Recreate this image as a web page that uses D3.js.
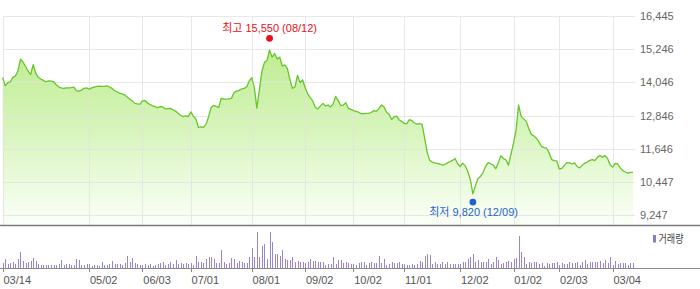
<!DOCTYPE html>
<html><head><meta charset="utf-8">
<script src="https://cdn.jsdelivr.net/npm/d3@7"></script>
<style>
body{margin:0;background:#fff}
svg{display:block}
text{font-family:"Liberation Sans",Arial,"Noto Sans CJK KR",sans-serif}
</style>
</head><body>
<svg id="c" width="700" height="289"></svg>
<script>
// ---- data ----
const closePrices = [
14230,13920,14040,14070,14230,14280,14460,14890,14780,14620,
14460,14330,14690,14380,14230,14170,14120,14070,14100,14090,
14070,13970,13890,13850,13830,13850,13850,13860,13880,13750,
13730,13770,13830,13850,13800,13850,13880,13900,13910,13900,
13900,13920,13880,13830,13750,13710,13660,13630,13590,13520,
13440,13380,13290,13270,13260,13380,13390,13300,13250,13200,
13170,13140,13170,13160,13090,13100,13110,13060,13010,12930,
12860,12810,12840,12810,12980,12830,12730,12420,12440,12420,
12530,12800,13140,13220,13180,13140,13480,13440,13440,13450,
13470,13680,13730,13760,13810,13830,13890,14100,14220,13870,
13120,13790,14460,14770,14840,15220,14960,15090,14890,14960,
14640,14680,14550,14150,13830,13890,14300,14040,14140,13860,
13630,13500,13380,13140,13090,13200,13290,13200,13230,13160,
13270,13540,13390,13210,13230,13310,13110,13070,13030,13000,
12970,12920,12920,12930,12930,12960,13030,13000,13100,13230,
13170,12980,12900,12710,12800,12830,12690,12640,12560,12560,
12700,12670,12580,12540,12560,12530,12040,11530,11230,11170,
11140,11120,11100,11060,11080,11140,11180,11230,11300,11110,
11010,11130,11030,10830,10540,10020,10310,10580,10650,10790,
11010,11150,11110,11060,10930,11140,11400,11300,11250,11060,
11460,11860,12330,13230,12820,12730,12640,12380,12170,12110,
12030,11900,11730,11690,11670,11500,11260,11220,11210,10920,
10940,11050,11150,11140,11100,11140,11010,10960,11050,11130,
11170,11230,11260,11220,11350,11400,11350,11400,11300,11060,
10990,11120,11100,10960,10860,10810,10770,10800,10800
];
const volumes = [
50,90,40,50,60,40,90,160,70,50,60,70,100,70,40,30,30,30,30,30,
30,
30,40,80,30,40,40,30,30,90,80,30,30,40,40,20,30,30,20,60,30,
30,40,70,40,40,40,30,50,120,60,100,50,40,30,30,40,30,40,20,30,
40,
50,60,30,40,60,40,80,40,50,40,50,40,50,30,120,60,60,50,90,110,
110,90,50,50,180,60,40,50,100,90,
50,
70,60,50,50,110,200,110,360,110,220,
240,90,360,260,140,140,120,180,90,80,
80,110,60,70,60,60,50,60,90,70,
70,60,60,60,30,40,40,110,40,80,80,50,60,
50,
40,40,30,50,60,60,30,50,60,50,
50,120,50,90,30,40,60,50,50,60,
40,40,30,30,40,30,40,70,60,120,
140,130,40,60,40,40,60,40,60,40,
40,40,40,40,60,60,90,110,140,60,
80,60,60,60,90,40,60,110,80,40,
50,60,70,60,90,100,320,160,110,40,
60,50,60,60,40,50,20,50,40,50,
50,60,30,50,40,40,60,50,50,60,
30,60,80,40,60,60,60,60,70,50,
80,50,110,30,70,40,50,50,50,30,
50,50
];
const xTickLabels = ["03/14","05/02","06/03","07/01","08/01","09/02","10/02","11/01","12/02","01/02","02/03","03/04"];
const xTickIndex  = [0,34,55,74,98,119,138,158,180,201,219,240];
const yTickValues = [9247,10447,11646,12846,14046,15246,16445];
const highPoint = {index:105, value:15550, date:"08/12"};
const lowPoint  = {index:185, value:9820,  date:"12/09"};
const legendLabel = "거래량";

// ---- chart ----
const svg = d3.select("#c");
const fmt = d3.format(",");
const x  = d3.scaleLinear().domain([0, closePrices.length-1]).range([2.7, 633]);
const y  = d3.scaleLinear().domain([9247,16445]).range([215.3,16]);
const yv = d3.scaleLinear().domain([0,380]).range([268.3,230]);
const plotRight = 635, priceBottom = 225;

const defs = svg.append("defs");
const g = defs.append("linearGradient").attr("id","fillG")
  .attr("gradientUnits","userSpaceOnUse").attr("x1",0).attr("x2",0).attr("y1",40).attr("y2",priceBottom);
g.append("stop").attr("offset",0).attr("stop-color","#bdeb8d");
g.append("stop").attr("offset",0.5).attr("stop-color","#d8f5bd");
g.append("stop").attr("offset",1).attr("stop-color","#fbfff8");

// area
svg.append("path").datum(closePrices)
  .attr("d", d3.area().x((d,i)=>x(i)).y0(priceBottom).y1(d=>y(d)))
  .attr("fill","url(#fillG)");

// grid
const grid = svg.append("g").attr("stroke","#e2e2e2").attr("stroke-opacity",0.8).attr("shape-rendering","crispEdges");
grid.selectAll("line.h").data(yTickValues).join("line")
  .attr("x1", x(0)).attr("x2", plotRight)
  .attr("y1", d=>Math.round(y(d))+0.5).attr("y2", d=>Math.round(y(d))+0.5);
grid.selectAll("line.v").data(xTickIndex).join("line")
  .attr("x1", d=>Math.round(x(d))+0.5).attr("x2", d=>Math.round(x(d))+0.5)
  .attr("y1", Math.round(y(16445))).attr("y2", priceBottom);

// line
svg.append("path").datum(closePrices)
  .attr("d", d3.line().x((d,i)=>x(i)).y(d=>y(d)))
  .attr("fill","none").attr("stroke","#66c62a").attr("stroke-width",1.3).attr("stroke-linejoin","round");

// right axis labels
svg.append("g").selectAll("text").data(yTickValues).join("text")
  .attr("x", 640).attr("y", d=>y(d)).attr("dy","0.36em")
  .attr("font-size",11).attr("fill","#666").text(d=>fmt(d));

// separator
svg.append("line").attr("x1",0).attr("x2",700).attr("y1",225.5).attr("y2",225.5)
  .attr("stroke","#7a7a7a").attr("stroke-width",1.6);

// volume bars
svg.append("g").attr("fill","#9a84cc").attr("shape-rendering","crispEdges")
  .selectAll("rect").data(volumes).join("rect")
  .attr("x",(d,i)=>Math.round(x(i))).attr("width",1)
  .attr("y",d=>Math.round(yv(d))).attr("height",d=>268-Math.round(yv(d)));

// volume baseline + ticks
svg.append("line").attr("x1",0).attr("x2",700).attr("y1",268.5).attr("y2",268.5)
  .attr("stroke","#8a8a8a").attr("stroke-width",1.2);
svg.append("g").attr("stroke","#8a8a8a").attr("shape-rendering","crispEdges")
  .selectAll("line").data(xTickIndex).join("line")
  .attr("x1",d=>Math.round(x(d))+0.5).attr("x2",d=>Math.round(x(d))+0.5)
  .attr("y1",268).attr("y2",272);
svg.append("g").selectAll("text").data(xTickLabels).join("text")
  .attr("x",(d,i)=>x(xTickIndex[i])+0.8).attr("y",283.5)
  .attr("font-size",11).attr("fill","#555").text(d=>d);

// legend
svg.append("rect").attr("x",653).attr("y",235).attr("width",3).attr("height",7.5).attr("fill","#8f78c6");
svg.append("text").attr("x",658.5).attr("y",242.5).attr("font-size",11).attr("fill","#444")
  .attr("textLength",25).attr("lengthAdjust","spacingAndGlyphs").text(legendLabel);

// high / low annotations
svg.append("circle").attr("cx",x(highPoint.index)).attr("cy",y(highPoint.value)-2.5).attr("r",3.4).attr("fill","#e8101c");
svg.append("text").attr("x",x(highPoint.index)).attr("y",31.5).attr("text-anchor","middle")
  .attr("font-size",11).attr("fill","#e8101c").text(`최고 ${fmt(highPoint.value)} (${highPoint.date})`);
svg.append("circle").attr("cx",x(lowPoint.index)).attr("cy",y(lowPoint.value)+2.6).attr("r",3.4).attr("fill","#1d62d2");
svg.append("text").attr("x",x(lowPoint.index)+0.7).attr("y",216).attr("text-anchor","middle")
  .attr("font-size",11).attr("fill","#1d62d2").text(`최저 ${fmt(lowPoint.value)} (${lowPoint.date})`);
</script>
</body></html>
